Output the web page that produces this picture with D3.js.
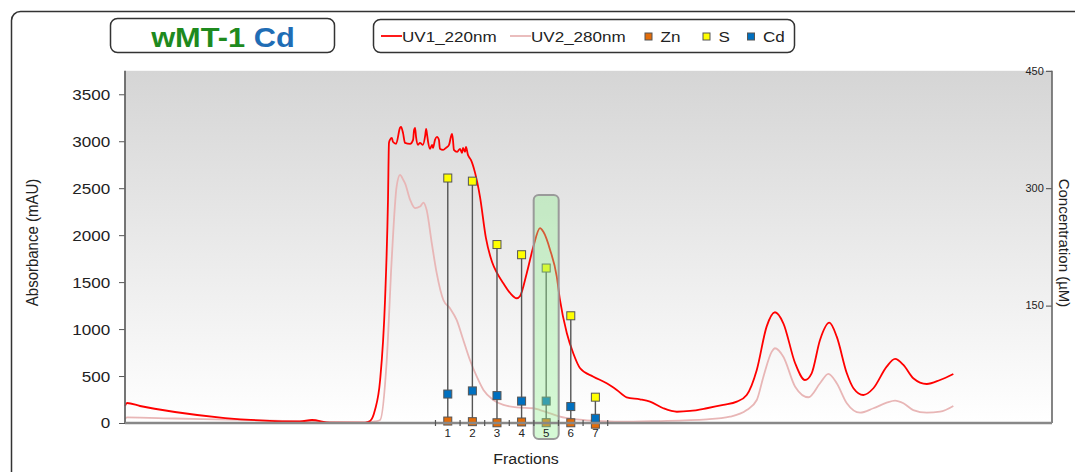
<!DOCTYPE html>
<html>
<head>
<meta charset="utf-8">
<script src="https://cdn.jsdelivr.net/npm/d3@7"></script>
<style>
  body { margin: 0; background: #fff; }
  svg { display: block; font-family: "Liberation Sans", Arial, sans-serif; }
</style>
</head>
<body>
<svg id="chart" width="1075" height="472"></svg>
<script>
// UV traces, [elution volume (mL), absorbance (mAU)]
const uv1 = [
  [0, 181], [0.08, 213], [0.61, 181], [2.03, 117], [4.07, 53], [6.10, 21], [7.11, 16], [7.60, 32],
  [8.33, 5], [9.76, 5], [9.96, 21], [10.16, 138], [10.37, 458], [10.57, 1310], [10.69, 2376],
  [10.73, 2983], [10.77, 3015], [10.85, 3036], [10.89, 2994], [11.02, 2972], [11.18, 3143],
  [11.22, 3153], [11.30, 3089], [11.38, 2983], [11.59, 2972], [11.71, 3015], [11.75, 3121],
  [11.79, 3143], [11.83, 3047], [11.91, 2962], [11.99, 2983], [12.11, 2962], [12.20, 3057],
  [12.24, 3132], [12.28, 3068], [12.32, 2994], [12.40, 2919], [12.48, 2962], [12.52, 2930],
  [12.60, 3015], [12.68, 3047], [12.76, 3015], [12.80, 2919], [12.93, 2908], [13.05, 2930],
  [13.17, 2962], [13.29, 3079], [13.33, 3015], [13.37, 2908], [13.50, 2887], [13.62, 2919],
  [13.70, 2876], [13.74, 2930], [13.82, 2887], [13.86, 2940], [13.94, 2855], [13.98, 2834],
  [14.06, 2802], [14.23, 2663], [14.43, 2408], [14.67, 1971], [14.92, 1715], [15.12, 1598],
  [15.37, 1491], [15.65, 1385], [15.92, 1328], [16.06, 1353], [16.33, 1595], [16.60, 1878],
  [16.87, 2074], [17.00, 2038], [17.28, 1843], [17.55, 1559], [17.68, 1310], [17.96, 956],
  [18.22, 743], [18.50, 583], [19.04, 493], [19.58, 423], [19.99, 352], [20.39, 274],
  [20.93, 252], [21.34, 227], [21.88, 157], [22.43, 120], [22.97, 128], [23.65, 157],
  [24.32, 192], [24.87, 227], [25.27, 298], [25.68, 565], [26.08, 1026], [26.42, 1179],
  [26.76, 1062], [27.24, 636], [27.64, 458], [27.91, 529], [28.25, 884], [28.63, 1068],
  [28.93, 919], [29.34, 529], [29.61, 370], [30.01, 298], [30.42, 370], [30.96, 600],
  [31.30, 682], [31.64, 618], [32.04, 476], [32.59, 415], [33.13, 458], [33.67, 522]
]

const uv2 = [
  [0, 43], [0.08, 59], [2.03, 48], [5.08, 32], [7.11, 16], [9.76, 5], [10.16, 16], [10.37, 32],
  [10.64, 671], [10.84, 1736], [11.04, 2517], [11.18, 2642], [11.31, 2589], [11.38, 2554],
  [11.59, 2376], [11.79, 2287], [11.99, 2304], [12.13, 2347], [12.26, 2269], [12.47, 1914],
  [12.67, 1595], [12.94, 1310], [13.21, 1222], [13.48, 1097], [13.75, 884], [14.02, 671],
  [14.30, 493], [14.57, 352], [14.97, 245], [15.38, 192], [15.92, 167], [16.60, 157],
  [16.87, 138], [17.28, 103], [17.68, 67], [18.36, 39], [19.04, 25], [20.12, 14], [21.61, 21],
  [23.65, 39], [24.59, 67], [25.27, 138], [25.68, 245], [25.95, 493], [26.29, 760],
  [26.42, 796], [26.76, 706], [27.24, 387], [27.78, 274], [28.25, 423], [28.59, 522],
  [28.93, 423], [29.34, 210], [29.88, 110], [30.42, 157], [30.96, 216], [31.30, 238],
  [31.64, 210], [32.04, 138], [32.59, 110], [33.13, 120], [33.67, 181]
]

// collected fractions (1 mL each) and metal / sulfur content (µM)
const fractions = [1, 2, 3, 4, 5, 6, 7]
const fractionStart = 12.62
const fractionWidth = 1
const znConc = [2.5, 1.7, 0.3, 1.3, 0.4, 0.3, -1.5]
const sConc = [313, 309, 228, 215, 198, 137, 33]
const cdConc = [37, 41, 35, 28, 28, 21, 6]
const highlighted = 5

const absTicks = [0, 500, 1000, 1500, 2000, 2500, 3000, 3500]
const concTicks = [150, 300, 450]

const colors = { uv1: '#ff0000', uv2: '#e8b6b6', Zn: '#e36c09', S: '#ffff00', Cd: '#0070c0' }

const svg = d3.select('#chart')
const stretch = 1.1   // the original glyphs are a little wider than they are tall
const plot = { left: 125, right: 1052, top: 70.8, bottom: 423 }

const x = d3.scaleLinear().domain([0, 37.68]).range([plot.left, plot.right])
const yAbs = d3.scaleLinear().domain([0, 3750]).range([plot.bottom, plot.top])
const yConc = d3.scaleLinear().domain([0, 450]).range([plot.bottom, plot.top])

const txt = (g, px, py, s, size, anchor, extra) => {
    return g.append('text')
        .attr('transform', `translate(${px},${py}) scale(${stretch},1)` + (extra || ''))
        .attr('text-anchor', anchor || 'start')
        .style('font-size', size + 'px')
        .style('fill', '#222')
        .text(s)
}

// outer frame
svg.append('rect')
    .attr('x', 11.5).attr('y', 11.5).attr('width', 1100).attr('height', 500).attr('rx', 9)
    .attr('fill', 'none').attr('stroke', '#333').attr('stroke-width', 1.5)

// plot background gradient
const grad = svg.append('defs').append('linearGradient')
    .attr('id', 'bg').attr('x1', 0).attr('y1', 0).attr('x2', 0).attr('y2', 1)
grad.append('stop').attr('offset', '0%').attr('stop-color', '#d5d5d5')
grad.append('stop').attr('offset', '100%').attr('stop-color', '#ffffff')

svg.append('rect')
    .attr('x', plot.left).attr('y', plot.top)
    .attr('width', plot.right - plot.left).attr('height', plot.bottom - plot.top)
    .attr('fill', 'url(#bg)')

// absorbance traces
const line = d3.line()
    .x(d => x(d[0]))
    .y(d => yAbs(d[1]))
    .curve(d3.curveMonotoneX)

svg.append('path').datum(uv2)
    .attr('d', line).attr('fill', 'none')
    .attr('stroke', colors.uv2).attr('stroke-width', 1.8)

svg.append('path').datum(uv1)
    .attr('d', line).attr('fill', 'none')
    .attr('stroke', colors.uv1).attr('stroke-width', 1.8)

// fraction stems and markers
const fracCenter = (i) => x(fractionStart + fractionWidth * (i + 0.5))

svg.append('g')
    .selectAll('line')
    .data(fractions)
    .join('line')
    .attr('x1', (d, i) => fracCenter(i))
    .attr('x2', (d, i) => fracCenter(i))
    .attr('y1', (d, i) => yConc(sConc[i]))
    .attr('y2', (d, i) => yConc(znConc[i]))
    .attr('stroke', '#555')
    .attr('stroke-width', 1.4)

const markerSets = [['Zn', znConc], ['Cd', cdConc], ['S', sConc]]
markerSets.forEach(([name, vals]) => {
    svg.append('g')
        .selectAll('rect')
        .data(vals)
        .join('rect')
        .attr('x', (d, i) => fracCenter(i) - 4)
        .attr('y', d => yConc(d) - 4)
        .attr('width', 8)
        .attr('height', 8)
        .attr('fill', colors[name])
        .attr('stroke', '#555')
        .attr('stroke-width', 1)
})

// highlighted fraction
const hi = fractions.indexOf(highlighted)
svg.append('rect')
    .attr('x', fracCenter(hi) - 12.5)
    .attr('y', 195)
    .attr('width', 25)
    .attr('height', 244)
    .attr('rx', 5)
    .attr('fill', 'rgba(144, 238, 144, 0.38)')
    .attr('stroke', '#9a9a9a')
    .attr('stroke-width', 2)

// left axis
const leftAxis = svg.append('g')
    .attr('transform', `translate(${plot.left},0)`)
    .call(d3.axisLeft(yAbs).tickValues(absTicks).tickFormat(d3.format('d')).tickSize(6).tickPadding(7.5))
leftAxis.select('.domain').remove()
leftAxis.selectAll('line').attr('stroke', '#555')
leftAxis.selectAll('text')
    .attr('transform', `scale(${stretch},1)`)
    .style('font-size', '15.5px')
    .style('font-family', '"Liberation Sans", Arial, sans-serif')
    .style('fill', '#222')

svg.append('line')
    .attr('x1', plot.left).attr('x2', plot.left)
    .attr('y1', plot.top).attr('y2', plot.bottom)
    .attr('stroke', '#666').attr('stroke-width', 1.8)

// right axis (ticks point inwards)
const rightAxis = svg.append('g')
    .attr('transform', `translate(${plot.right},0)`)
    .call(d3.axisLeft(yConc).tickValues(concTicks).tickFormat(d3.format('d')).tickSize(6).tickPadding(1.5))
rightAxis.select('.domain').remove()
rightAxis.selectAll('line').attr('stroke', '#444')
rightAxis.selectAll('text')
    .attr('transform', `scale(${stretch},1)`)
    .style('font-size', '10px')
    .style('font-family', '"Liberation Sans", Arial, sans-serif')
    .style('fill', '#222')

svg.append('line')
    .attr('x1', plot.right).attr('x2', plot.right)
    .attr('y1', plot.top).attr('y2', plot.bottom)
    .attr('stroke', '#666').attr('stroke-width', 1.6)

// bottom axis line
svg.append('line')
    .attr('x1', plot.left).attr('x2', plot.right)
    .attr('y1', plot.bottom).attr('y2', plot.bottom)
    .attr('stroke', '#888').attr('stroke-width', 2.4)

// fraction boundary ticks and numbers
const bounds = d3.range(fractions.length + 1).map(i => fractionStart + fractionWidth * i)
svg.append('g')
    .selectAll('line')
    .data(bounds)
    .join('line')
    .attr('x1', d => x(d)).attr('x2', d => x(d))
    .attr('y1', plot.bottom - 3).attr('y2', plot.bottom + 3)
    .attr('stroke', '#555').attr('stroke-width', 1.2)

const fracLabels = svg.append('g')
fractions.forEach((f, i) => txt(fracLabels, fracCenter(i), 437, f, 10.5, 'middle'))

// axis titles
txt(svg, 526, 463.5, 'Fractions', 14.5, 'middle')
txt(svg, 38, 242.5, 'Absorbance (mAU)', 15, 'middle', ' rotate(-90)')
svg.append('text')
    .attr('transform', 'translate(1059,243) rotate(90)')
    .attr('text-anchor', 'middle')
    .style('font-size', '15px')
    .style('fill', '#222')
    .text('Concentration (µM)')

// title box
svg.append('rect')
    .attr('x', 110.5).attr('y', 18.5).attr('width', 224).attr('height', 34).attr('rx', 7)
    .attr('fill', '#fff').attr('stroke', '#333').attr('stroke-width', 1.5)
const title = txt(svg, 223, 47, '', 28, 'middle')
    .style('font-weight', 'bold')
title.append('tspan').style('fill', '#1e8a1e').text('wMT-1 ')
title.append('tspan').style('fill', '#1f6db5').text('Cd')

// legend
svg.append('rect')
    .attr('x', 373.5).attr('y', 19.5).attr('width', 421).attr('height', 33).attr('rx', 7)
    .attr('fill', '#fff').attr('stroke', '#333').attr('stroke-width', 1.5)

const legendLines = [['UV1_220nm', colors.uv1, 381], ['UV2_280nm', colors.uv2, 510]]
const legend = svg.append('g')
legendLines.forEach(([label, c, lx]) => {
    legend.append('line')
        .attr('x1', lx).attr('x2', lx + 21).attr('y1', 36).attr('y2', 36)
        .attr('stroke', c).attr('stroke-width', 1.8)
    txt(legend, lx + 21, 42, label, 15.5)
})
const legendMarks = [['Zn', 648.5], ['S', 706.5], ['Cd', 751]]
legendMarks.forEach(([name, lx]) => {
    legend.append('rect')
        .attr('x', lx - 3.5).attr('y', 33).attr('width', 7).attr('height', 7)
        .attr('fill', colors[name]).attr('stroke', '#555').attr('stroke-width', 1)
    txt(legend, lx + 12, 42, name, 15.5)
})
</script>
</body>
</html>
